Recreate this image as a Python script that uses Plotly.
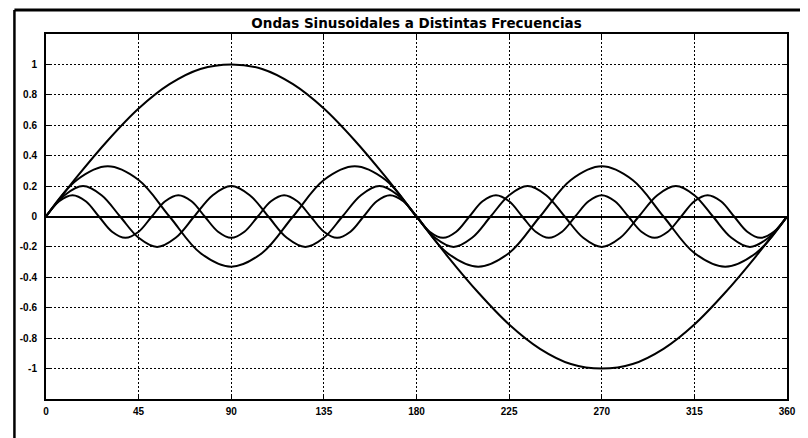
import plotly.graph_objects as go

# ---- data ----
x_f1 = [0, 15, 30, 45, 60, 75, 90, 105, 120, 135, 150, 165, 180,
        195, 210, 225, 240, 255, 270, 285, 300, 315, 330, 345, 360]
y_f1 = [0, 0.26, 0.5, 0.71, 0.87, 0.97, 1, 0.97, 0.87, 0.71, 0.5, 0.26, 0,
        -0.26, -0.5, -0.71, -0.87, -0.97, -1, -0.97, -0.87, -0.71, -0.5, -0.26, 0]

x_f3 = x_f1
y_f3 = [0, 0.24, 0.33, 0.24, 0, -0.24, -0.33, -0.24, 0, 0.24, 0.33, 0.24, 0,
        -0.24, -0.33, -0.24, 0, 0.24, 0.33, 0.24, 0, -0.24, -0.33, -0.24, 0]

x_f5 = [0, 9, 18, 27, 36, 45, 54, 63, 72, 81, 90, 99, 108, 117, 126, 135, 144,
        153, 162, 171, 180, 189, 198, 207, 216, 225, 234, 243, 252, 261, 270,
        279, 288, 297, 306, 315, 324, 333, 342, 351, 360]
y_f5 = [0, 0.14, 0.2, 0.14, 0, -0.14, -0.2, -0.14,
        0, 0.14, 0.2, 0.14, 0, -0.14, -0.2, -0.14,
        0, 0.14, 0.2, 0.14, 0, -0.14, -0.2, -0.14,
        0, 0.14, 0.2, 0.14, 0, -0.14, -0.2, -0.14,
        0, 0.14, 0.2, 0.14, 0, -0.14, -0.2, -0.14, 0]

x_f7 = [0, 6.4, 12.9, 19.3, 25.7, 32.1, 38.6, 45, 51.4, 57.9, 64.3, 70.7, 77.1,
        83.6, 90, 96.4, 102.9, 109.3, 115.7, 122.1, 128.6, 135, 141.4, 147.9,
        154.3, 160.7, 167.1, 173.6, 180, 186.4, 192.9, 199.3, 205.7, 212.1,
        218.6, 225, 231.4, 237.9, 244.3, 250.7, 257.1, 263.6, 270, 276.4,
        282.9, 289.3, 295.7, 302.1, 308.6, 315, 321.4, 327.9, 334.3, 340.7,
        347.1, 353.6, 360]
y_f7 = [0, 0.1, 0.14, 0.1, 0, -0.1, -0.14, -0.1,
        0, 0.1, 0.14, 0.1, 0, -0.1, -0.14, -0.1,
        0, 0.1, 0.14, 0.1, 0, -0.1, -0.14, -0.1,
        0, 0.1, 0.14, 0.1, 0, -0.1, -0.14, -0.1,
        0, 0.1, 0.14, 0.1, 0, -0.1, -0.14, -0.1,
        0, 0.1, 0.14, 0.1, 0, -0.1, -0.14, -0.1,
        0, 0.1, 0.14, 0.1, 0, -0.1, -0.14, -0.1, 0]

x_ticks = [0, 45, 90, 135, 180, 225, 270, 315, 360]
y_ticks = [-1, -0.8, -0.6, -0.4, -0.2, 0, 0.2, 0.4, 0.6, 0.8, 1]
y_tick_text = ["-1", "-0.8", "-0.6", "-0.4", "-0.2", "0", "0.2", "0.4", "0.6", "0.8", "1"]
title_text = "Ondas Sinusoidales a Distintas Frecuencias"

fig = go.Figure()
for xs, ys in [(x_f1, y_f1), (x_f3, y_f3), (x_f5, y_f5), (x_f7, y_f7)]:
    fig.add_trace(go.Scatter(x=xs, y=ys, mode="lines",
                             line=dict(color="black", width=2, shape="spline", smoothing=1),
                             showlegend=False, hoverinfo="skip"))

tickfont = dict(family="Liberation Sans Narrow, Arial Narrow, Liberation Sans, Arial",
                size=10, color="black", weight="bold")

# page body has an 8px margin; figure sized so the plot area lands where the reference has it
W, H = 800, 430
ML, MR, MT, MB = 35, 14, 26, 39
PW, PH = W - ML - MR, H - MT - MB
frame_x = (3 - ML) / PW
frame_y = (PH + MT - 2) / PH  # top frame line at page y=10 -> fig y=2

fig.update_layout(
    width=W, height=H,
    margin=dict(l=ML, r=MR, t=MT, b=MB),
    paper_bgcolor="white", plot_bgcolor="white",
    title=dict(text=title_text, x=0.5, xref="paper", xanchor="center",
               y=1 - 15 / H, yref="container", yanchor="middle",
               font=dict(family="DejaVu Sans, Liberation Sans, Arial", size=13.5, color="black", weight="bold")),
    xaxis=dict(range=[0, 360], tickvals=x_ticks, ticktext=[str(v) for v in x_ticks],
               showgrid=True, gridcolor="black", gridwidth=1, griddash="2px,2px",
               showline=True, linecolor="black", linewidth=2, mirror="ticks",
               ticks="inside", ticklen=5, tickcolor="black", tickwidth=1,
               zeroline=False, tickfont=tickfont, ticklabelstandoff=2),
    yaxis=dict(range=[-1.2, 1.2], tickvals=y_ticks, ticktext=y_tick_text,
               showgrid=True, gridcolor="black", gridwidth=1, griddash="2px,2px",
               showline=True, linecolor="black", linewidth=2, mirror="ticks",
               ticks="inside", ticklen=5, tickcolor="black", tickwidth=1,
               zeroline=True, zerolinecolor="black", zerolinewidth=2,
               tickfont=tickfont, ticklabelstandoff=5),
    shapes=[
        dict(type="line", xref="paper", yref="paper",
             x0=frame_x, x1=1.2, y0=frame_y, y1=frame_y,
             line=dict(color="black", width=3)),
        dict(type="line", xref="paper", yref="paper",
             x0=frame_x, x1=frame_x, y0=frame_y, y1=-0.3,
             line=dict(color="black", width=2.5)),
    ],
)

fig.write_html("out.html")
